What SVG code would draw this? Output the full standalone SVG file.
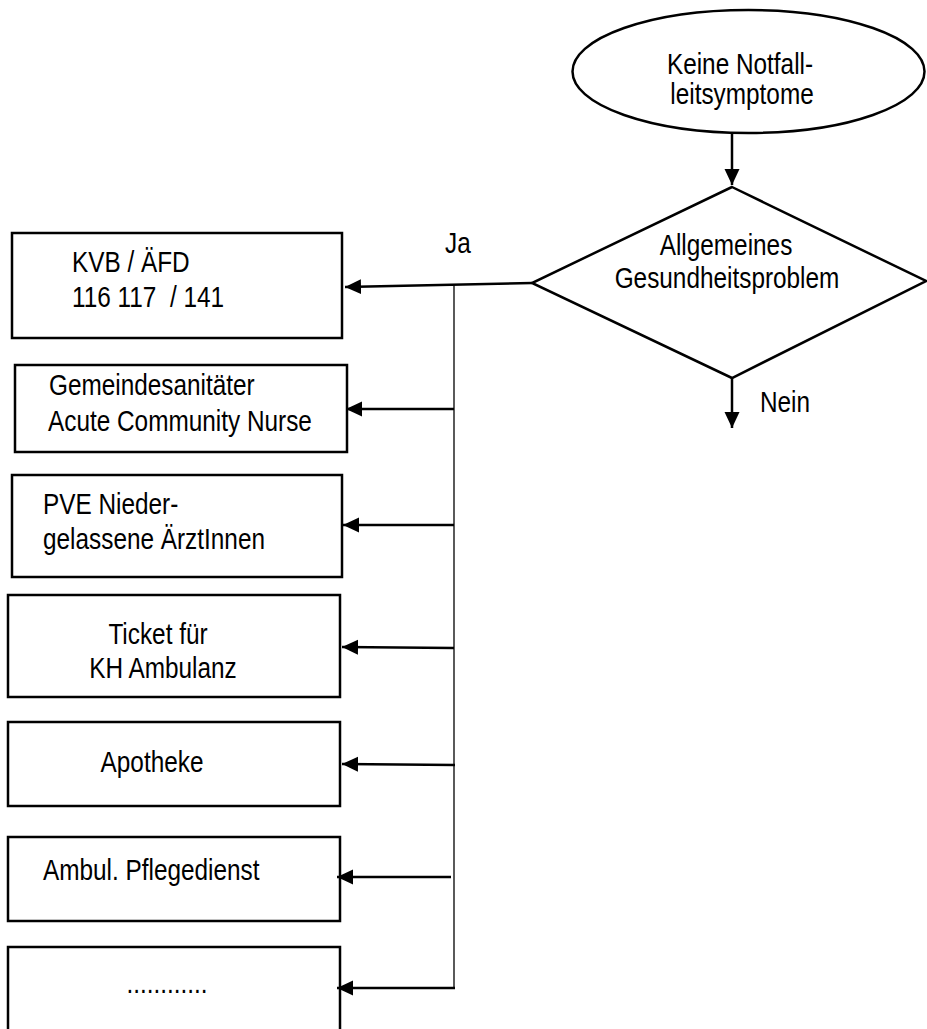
<svg xmlns="http://www.w3.org/2000/svg" width="927" height="1029" viewBox="0 0 927 1029">
  <style>
    .shape { fill: #ffffff; stroke: #000000; stroke-width: 2.5; }
    .lbl { font-family: "Liberation Sans", Arial, sans-serif; font-size: 29px; fill: #000000; }
    .mid { text-anchor: middle; }
    .edge { fill: none; stroke: #000000; stroke-width: 2.5; }
    .bus { fill: none; stroke: #000000; stroke-width: 1.3; }
  </style>
  <defs>
    <marker id="arrow" markerUnits="userSpaceOnUse" markerWidth="17" markerHeight="16" refX="16" refY="7.5" orient="auto">
      <path d="M0,0 L16,7.5 L0,15 z" fill="#000000"/>
    </marker>
  </defs>
  <rect width="927" height="1029" fill="#ffffff"/>

  <!-- start terminal -->
  <g id="start">
    <ellipse class="shape" cx="748.5" cy="71.5" rx="176" ry="61.5"/>
    <text class="lbl mid" transform="translate(740,74) scale(0.84,1)">Keine Notfall-</text>
    <text class="lbl mid" transform="translate(742,104) scale(0.84,1)">leitsymptome</text>
  </g>

  <!-- decision -->
  <g id="decision">
    <polygon class="shape" points="732,187 926,281 732,378 532,283"/>
    <text class="lbl mid" transform="translate(726,255) scale(0.84,1)">Allgemeines</text>
    <text class="lbl mid" transform="translate(727,288) scale(0.84,1)">Gesundheitsproblem</text>
  </g>

  <!-- targets -->
  <g id="kvb">
    <rect class="shape" x="12" y="233" width="330" height="105"/>
    <text class="lbl" transform="translate(72,272) scale(0.84,1)">KVB / ÄFD</text>
    <text class="lbl" xml:space="preserve" transform="translate(72,307) scale(0.84,1)">116 117  / 141</text>
  </g>
  <g id="gemeindesanitaeter">
    <rect class="shape" x="15" y="365" width="332" height="87"/>
    <text class="lbl" transform="translate(49,395) scale(0.84,1)">Gemeindesanitäter</text>
    <text class="lbl" transform="translate(48,431) scale(0.84,1)">Acute Community Nurse</text>
  </g>
  <g id="pve">
    <rect class="shape" x="12" y="475" width="330" height="102"/>
    <text class="lbl" transform="translate(43,514) scale(0.84,1)">PVE Nieder-</text>
    <text class="lbl" transform="translate(43,549) scale(0.84,1)">gelassene ÄrztInnen</text>
  </g>
  <g id="ticket">
    <rect class="shape" x="8" y="595" width="332" height="102"/>
    <text class="lbl mid" transform="translate(158,644) scale(0.84,1)">Ticket für</text>
    <text class="lbl mid" transform="translate(163,678) scale(0.84,1)">KH Ambulanz</text>
  </g>
  <g id="apotheke">
    <rect class="shape" x="8" y="722" width="332" height="84"/>
    <text class="lbl mid" transform="translate(152,772) scale(0.84,1)">Apotheke</text>
  </g>
  <g id="pflegedienst">
    <rect class="shape" x="8" y="837" width="332" height="84"/>
    <text class="lbl" transform="translate(43,880) scale(0.84,1)">Ambul. Pflegedienst</text>
  </g>
  <g id="weitere">
    <rect class="shape" x="8" y="947" width="332" height="95"/>
    <text class="lbl mid" transform="translate(167,993) scale(0.84,1)">............</text>
  </g>

  <!-- connectors -->
  <g id="connectors">
    <line class="edge" x1="732" y1="134" x2="732" y2="185" marker-end="url(#arrow)"/>
    <line class="edge" x1="732" y1="378" x2="732" y2="428" marker-end="url(#arrow)"/>
    <line class="edge" x1="532" y1="283" x2="345" y2="287" marker-end="url(#arrow)"/>
    <line class="bus" x1="454" y1="284" x2="454" y2="989"/>
    <line class="edge" x1="454" y1="409" x2="346" y2="409" marker-end="url(#arrow)"/>
    <line class="edge" x1="454" y1="525" x2="343" y2="525" marker-end="url(#arrow)"/>
    <line class="edge" x1="454" y1="648" x2="342" y2="647" marker-end="url(#arrow)"/>
    <line class="edge" x1="455" y1="765" x2="342" y2="764" marker-end="url(#arrow)"/>
    <line class="edge" x1="451" y1="877" x2="337" y2="877" marker-end="url(#arrow)"/>
    <line class="edge" x1="455" y1="988" x2="337" y2="988" marker-end="url(#arrow)"/>
    <text class="lbl" transform="translate(445,253) scale(0.84,1)">Ja</text>
    <text class="lbl" transform="translate(760,412) scale(0.84,1)">Nein</text>
  </g>
</svg>
